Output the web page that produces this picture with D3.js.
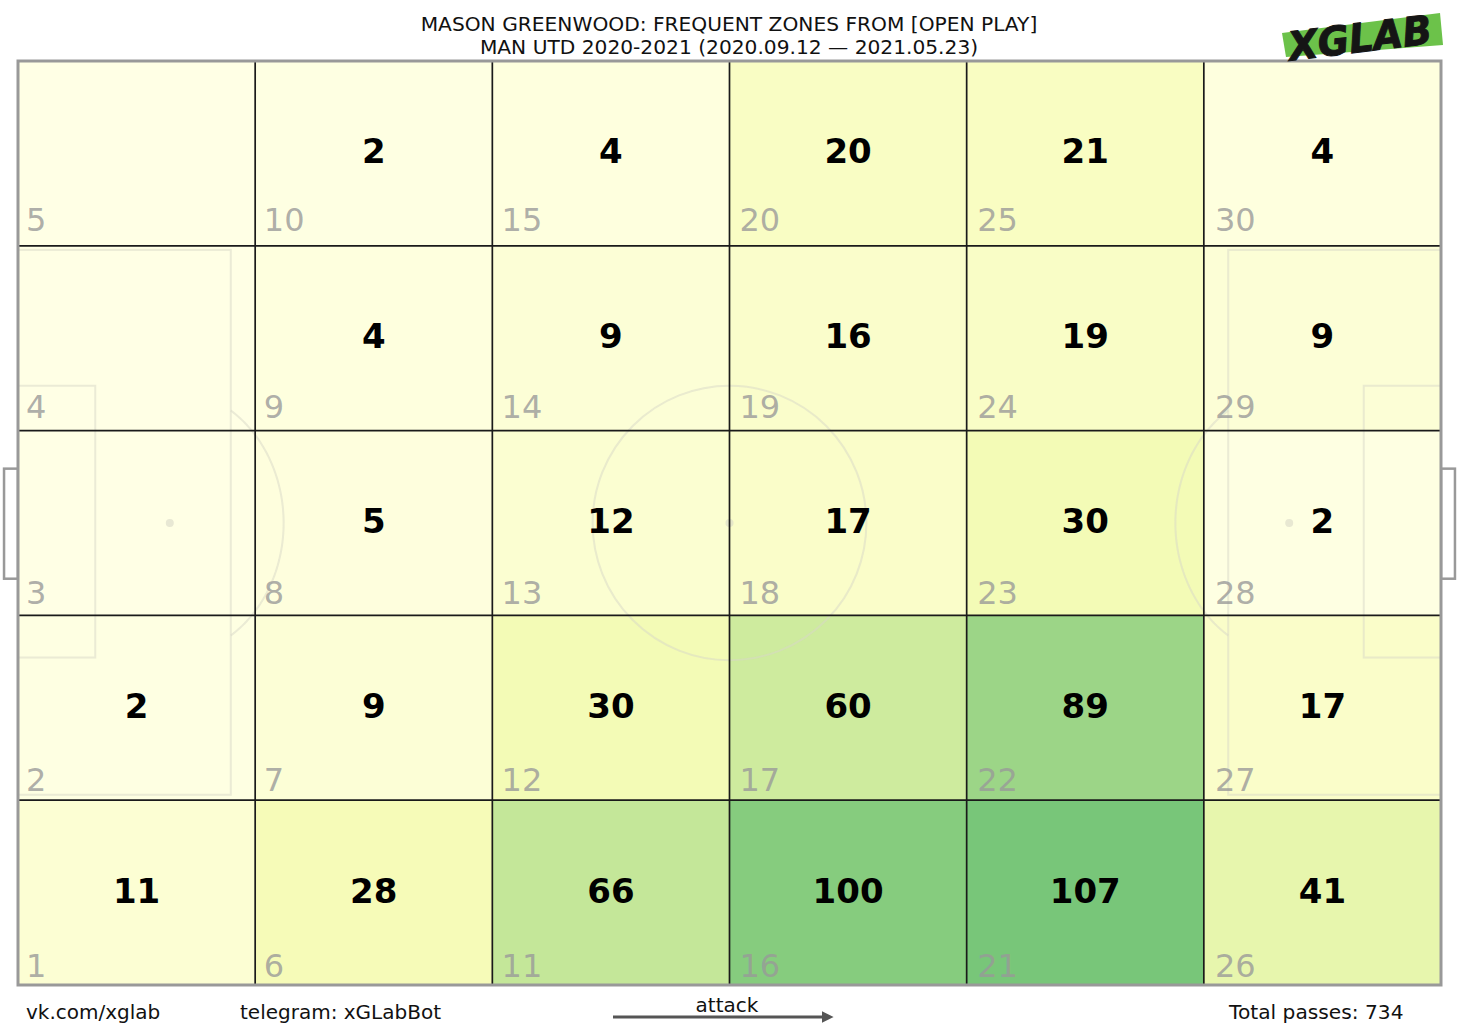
<!DOCTYPE html>
<html>
<head>
<meta charset="utf-8">
<script src="https://cdn.jsdelivr.net/npm/d3@7"></script>
<style>
  html, body { margin: 0; padding: 0; background: #fff; }
  svg { display: block; font-family: "DejaVu Sans", sans-serif; }
</style>
</head>
<body>
<svg id="chart" width="1460" height="1035"></svg>
<script>
// ---------------- DATA ----------------
const titleLines = [
  "MASON GREENWOOD: FREQUENT ZONES FROM [OPEN PLAY]",
  "MAN UTD 2020-2021 (2020.09.12 \u2014 2021.05.23)"
];
const nCols = 6;
const nRows = 5;
// zone number = col*5 + rowFromBottom + 1 ; values by zone 1..30
const zoneIds = d3.range(1, 31);
const zoneCounts = [
  11, 2, 0, 0, 0,
  28, 9, 5, 4, 2,
  66, 30, 12, 9, 4,
  100, 60, 17, 16, 20,
  107, 89, 30, 19, 21,
  41, 17, 2, 9, 4
];
const footerLeft = ["vk.com/xglab", "telegram: xGLabBot"];
const attackLabel = "attack";
const totalLabel = "Total passes: ";
const logoText = "XGLAB";
const ylgn = ['#ffffe5','#f7fcb9','#d9f0a3','#addd8e','#78c679','#41ab5d','#238443','#006837','#004529'];

// ---------------- LAYOUT ----------------
const svg = d3.select("#chart");
const X0 = 18, X1 = 1441, Y0 = 61, Y1 = 985;
const colX = d3.scaleLinear().domain([0, nCols]).range([X0, X1]);
const rowY = d3.scaleLinear().domain([0, nRows]).range([Y1, Y0]); // row from bottom
const labelY = d3.scaleLinear().domain([0, nRows - 1]).range([977, 231]);
const labelX = d3.scaleLinear().domain([0, nCols - 1]).range([X0 + 8, X0 + 8 + 5 * 237.8]);

// pitch in metres
const px = d3.scaleLinear().domain([0, 105]).range([X0, X1]);
const py = d3.scaleLinear().domain([0, 68]).range([Y0, Y1]);

const vmax = 2 * d3.max(zoneCounts);
const color = d3.scaleLinear()
  .domain(ylgn.map((c, i) => i / (ylgn.length - 1) * vmax))
  .range(ylgn)
  .interpolate(d3.interpolateRgb)
  .clamp(true);

svg.append("rect").attr("width", 1460).attr("height", 1035).attr("fill", "#fff");

const cells = zoneIds.map((z, i) => ({
  zone: z, count: zoneCounts[i],
  col: Math.floor(i / nRows), row: i % nRows
}));

// goals (outside pitch)
const goalG = svg.append("g").attr("fill", "none").attr("stroke", "#999").attr("stroke-width", 2.5);
goalG.append("rect").attr("x", px(-1.03)).attr("y", py(30)).attr("width", px(0) - px(-1.03)).attr("height", py(38.1) - py(30));
goalG.append("rect").attr("x", px(105)).attr("y", py(30)).attr("width", px(106.03) - px(105)).attr("height", py(38.1) - py(30));

// heat cells
svg.append("g").selectAll("rect").data(cells).join("rect")
  .attr("x", d => colX(d.col))
  .attr("y", d => rowY(d.row + 1))
  .attr("width", d => colX(d.col + 1) - colX(d.col))
  .attr("height", d => rowY(d.row) - rowY(d.row + 1))
  .attr("fill", d => color(d.count));

// pitch markings (faint)
const mk = svg.append("g").attr("fill", "none").attr("stroke", "#d8d8c8").attr("stroke-opacity", 0.5).attr("stroke-width", 2);
// centre circle
mk.append("ellipse").attr("cx", px(52.5)).attr("cy", py(34)).attr("rx", px(10.1) - px(0)).attr("ry", py(10.1) - py(0));
mk.append("circle").attr("cx", px(52.5)).attr("cy", py(34)).attr("r", 4).attr("fill", "#d8d8c8").attr("fill-opacity", 0.6).attr("stroke", "none");
// penalty & goal areas
[[0, 1], [105, -1]].forEach(([gx, dir]) => {
  const pa = [gx, gx + dir * 15.7].sort((a, b) => a - b);
  mk.append("rect").attr("x", px(pa[0])).attr("y", py(13.9)).attr("width", px(pa[1]) - px(pa[0])).attr("height", py(54.0) - py(13.9));
  const ga = [gx, gx + dir * 5.7].sort((a, b) => a - b);
  mk.append("rect").attr("x", px(ga[0])).attr("y", py(23.9)).attr("width", px(ga[1]) - px(ga[0])).attr("height", py(43.9) - py(23.9));
  const sx = gx + dir * 11.2;
  mk.append("circle").attr("cx", px(sx)).attr("cy", py(34)).attr("r", 4).attr("fill", "#d8d8c8").attr("fill-opacity", 0.6).attr("stroke", "none");
  // penalty arc outside box
  const rx = px(8.4) - px(0), ry = py(9.8) - py(0);
  const bx = px(gx + dir * 15.7), cx = px(sx);
  const t = Math.acos(Math.abs(bx - cx) / rx);
  const pts = d3.range(-t, t + 0.001, t / 40).map(a => [cx + dir * rx * Math.cos(a), py(34) + ry * Math.sin(a)]);
  mk.append("path").attr("d", d3.line()(pts));
});

// grid lines
const grid = svg.append("g").attr("stroke", "#1a1a1a").attr("stroke-width", 1.7);
d3.range(1, nCols).forEach(c => grid.append("line").attr("x1", colX(c)).attr("x2", colX(c)).attr("y1", Y0).attr("y2", Y1));
d3.range(1, nRows).forEach(r => grid.append("line").attr("x1", X0).attr("x2", X1).attr("y1", rowY(r)).attr("y2", rowY(r)));

// outer border
svg.append("rect").attr("x", X0).attr("y", Y0).attr("width", X1 - X0).attr("height", Y1 - Y0)
  .attr("fill", "none").attr("stroke", "#999").attr("stroke-width", 3);

// zone labels
svg.append("g").selectAll("text").data(cells).join("text")
  .attr("x", d => labelX(d.col))
  .attr("y", d => labelY(d.row))
  .attr("font-size", 32)
  .attr("fill", "#999")
  .attr("fill-opacity", 0.8)
  .text(d => d.zone);

// value labels
svg.append("g").selectAll("text").data(cells.filter(d => d.count > 0)).join("text")
  .attr("x", d => (colX(d.col) + colX(d.col + 1)) / 2)
  .attr("y", d => (rowY(d.row) + rowY(d.row + 1)) / 2 + 10)
  .attr("text-anchor", "middle")
  .attr("font-size", 34)
  .attr("font-weight", "bold")
  .attr("fill", "#000")
  .text(d => d.count);

// title
svg.append("g").selectAll("text").data(titleLines).join("text")
  .attr("x", 729)
  .attr("y", (d, i) => 30.5 + i * 23)
  .attr("text-anchor", "middle")
  .attr("font-size", 20.2)
  .attr("fill", "#111")
  .text(d => d);

// footer
svg.append("text").attr("x", 26).attr("y", 1019).attr("font-size", 20).attr("fill", "#111").text(footerLeft[0]);
svg.append("text").attr("x", 240).attr("y", 1019).attr("font-size", 20).attr("fill", "#111").text(footerLeft[1]);
svg.append("text").attr("x", 1229).attr("y", 1019).attr("font-size", 20.2).attr("fill", "#111").text(totalLabel + d3.sum(zoneCounts));
svg.append("text").attr("x", 727).attr("y", 1012).attr("text-anchor", "middle").attr("font-size", 20).attr("fill", "#111").text(attackLabel);
svg.append("defs").append("marker").attr("id", "arr").attr("viewBox", "0 0 10 10")
  .attr("refX", 2).attr("refY", 5).attr("markerWidth", 4).attr("markerHeight", 4).attr("orient", "auto")
  .append("path").attr("d", "M0,0 L10,5 L0,10 z").attr("fill", "#555");
svg.append("line").attr("x1", 613).attr("x2", 824).attr("y1", 1017).attr("y2", 1017)
  .attr("stroke", "#555").attr("stroke-width", 3).attr("marker-end", "url(#arr)");

// logo
const logo = svg.append("g");
logo.append("path").attr("d", "M1282,33 L1440,13 L1443,45 L1286,57 Z").attr("fill", "#6cc24a");
logo.append("text").attr("x", 1360).attr("y", 52).attr("text-anchor", "middle")
  .attr("transform", "rotate(-7,1360,38)")
  .attr("font-size", 40).attr("font-weight", "bold").attr("font-style", "italic")
  .attr("textLength", 144).attr("lengthAdjust", "spacingAndGlyphs")
  .attr("fill", "#151515").attr("stroke", "#151515").attr("stroke-width", 1)
  .text(logoText);
</script>
</body>
</html>
